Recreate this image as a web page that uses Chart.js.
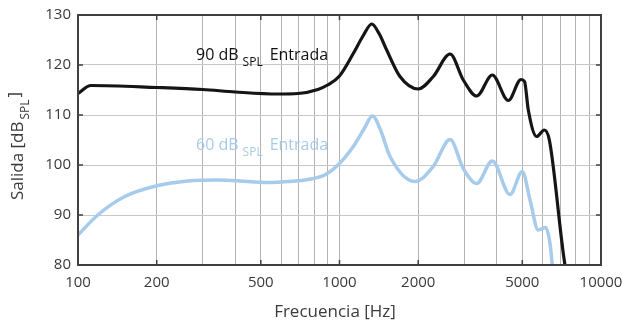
<!DOCTYPE html>
<html><head><meta charset="utf-8">
<script src="https://cdn.jsdelivr.net/npm/chart.js@4/dist/chart.umd.min.js"></script>
<style>html,body{margin:0;padding:0;background:#fff}#wrap{width:622px;height:324px}</style>
</head><body><div id="wrap"><canvas id="c" width="622" height="324"></canvas></div>
<script>
const freq90 = [100,112,200,300,400,580,694,827,900,1000,1129,1230,1328,1420,1515,1703,2001,2284,2647,2974,3347,3841,4420,4945,5100,5272,5676,6068,6346,7282,7600];
const spl90  = [114.3,115.9,115.5,115.1,114.6,114.2,114.3,115.1,116.0,117.8,122.3,125.8,128.2,126.2,123,117.7,115.2,117.7,122.2,117,113.8,118,112.9,117.1,116.7,111,105.7,107,105,80,76];
const freq60 = [100,119,151,202,263,343,447,548,635,758,878,987,1129,1240,1337,1440,1560,1944,2284,2647,2974,3347,3841,4487,5003,5353,5757,6143,6383,6513,6700];
const spl60  = [86,90,93.7,95.9,96.8,97,96.7,96.5,96.7,97.1,98,100,103.7,107.2,109.8,106.8,101.7,96.7,99.7,105.1,99.3,96.3,100.8,94.1,98.7,93,87,87.5,84.3,80,76];
const xMajor = [100,200,500,1000,2000,5000,10000];
const yTicks = [80,90,100,110,120,130];
const label90 = ['90 dB','SPL','Entrada'];
const label60 = ['60 dB','SPL','Entrada'];
const xTitle = 'Frecuencia [Hz]';
const yTitle = ['Salida [dB','SPL',']'];

const FONT = '"Open Sans", "Noto Sans", sans-serif';
const TXT = '#3a3a3a';
const BLUE = '#a7cbeb';

const deco = {
  id:'deco',
  afterDraw(chart){
    const {ctx, chartArea:a, scales:{x,y}} = chart;
    ctx.save();
    ctx.strokeStyle = '#404040'; ctx.lineWidth = 2;
    ctx.strokeRect(a.left, a.top, a.right-a.left, a.bottom-a.top);
    ctx.lineWidth = 1.5;
    xMajor.forEach(v=>{const px=x.getPixelForValue(v);
      ctx.beginPath();ctx.moveTo(px,a.bottom);ctx.lineTo(px,a.bottom-5);ctx.moveTo(px,a.top);ctx.lineTo(px,a.top+5);ctx.stroke();});
    yTicks.forEach(v=>{const py=y.getPixelForValue(v);
      ctx.beginPath();ctx.moveTo(a.left,py);ctx.lineTo(a.left+5,py);ctx.moveTo(a.right,py);ctx.lineTo(a.right-5,py);ctx.stroke();});
    function lab(parts, xv, yv, color){
      const px = x.getPixelForValue(xv), py = y.getPixelForValue(yv);
      ctx.fillStyle = color; ctx.textBaseline='middle'; ctx.textAlign='left';
      ctx.font = '16px '+FONT; ctx.fillText(parts[0], px, py);
      let w = ctx.measureText(parts[0]).width + 4;
      ctx.font = '12px '+FONT; ctx.fillText(parts[1], px+w, py+8);
      w += ctx.measureText(parts[1]).width + 7;
      ctx.font = '16px '+FONT; ctx.fillText(parts[2], px+w, py);
    }
    lab(label90, 100*Math.pow(10,(196-78)/261.5), 130-(55-15)/5, '#111');
    lab(label60, 100*Math.pow(10,(196-78)/261.5), 130-(145-15)/5, BLUE);
    ctx.fillStyle = TXT; ctx.font = '17px '+FONT; ctx.textAlign='center'; ctx.textBaseline='middle';
    ctx.fillText(xTitle, 335, 312);
    ctx.translate(18, 146); ctx.rotate(-Math.PI/2);
    ctx.textAlign='left';
    ctx.font = '17px '+FONT;
    const w0 = ctx.measureText(yTitle[0]).width;
    ctx.font = '12px '+FONT;
    const w1 = ctx.measureText(yTitle[1]).width;
    ctx.font = '17px '+FONT;
    const w2 = ctx.measureText(yTitle[2]).width;
    const tot = w0+2+w1+2+w2;
    let cx = -tot/2;
    ctx.fillText(yTitle[0], cx, 0); cx += w0+2;
    ctx.font = '12px '+FONT; ctx.fillText(yTitle[1], cx, 8); cx += w1+2;
    ctx.font = '17px '+FONT; ctx.fillText(yTitle[2], cx, -3);
    ctx.restore();
  }
};

new Chart(document.getElementById('c'), {
  type:'line',
  data:{datasets:[
    {data: freq90.map((f,i)=>({x:f,y:spl90[i]})), borderColor:'#151515', borderWidth:3.2, pointRadius:0, cubicInterpolationMode:'monotone'},
    {data: freq60.map((f,i)=>({x:f,y:spl60[i]})), borderColor:BLUE, borderWidth:3.5, pointRadius:0, cubicInterpolationMode:'monotone'}
  ]},
  options:{
    responsive:false, animation:false,
    layout:{padding:{top:15,right:21,left:0,bottom:0}},
    plugins:{legend:{display:false},tooltip:{enabled:false}},
    scales:{
      x:{type:'logarithmic', min:100, max:10000,
        afterBuildTicks(s){const t=[];for(let d=100;d<=1000;d*=10)for(let k=1;k<=9;k++)t.push({value:d*k});t.push({value:10000});s.ticks=t;},
        afterFit(s){s.height=59; s.paddingLeft=0; s.paddingRight=0;},
        grid:{color:'#b4b4b4', lineWidth:1, drawTicks:false},
        border:{display:false},
        ticks:{autoSkip:false, maxRotation:0, color:TXT, font:{size:15,family:FONT}, padding:9,
          callback(v){return xMajor.includes(v)?String(v):'';}}
      },
      y:{min:80, max:130,
        afterBuildTicks(s){s.ticks=yTicks.map(v=>({value:v}));},
        afterFit(s){s.width=78; s.paddingTop=0; s.paddingBottom=0;},
        grid:{color:'#c8c8c8', lineWidth:1, drawTicks:false},
        border:{display:false},
        ticks:{color:TXT, font:{size:15,family:FONT}, padding:7}
      }
    }
  },
  plugins:[deco]
});
</script></body></html>
